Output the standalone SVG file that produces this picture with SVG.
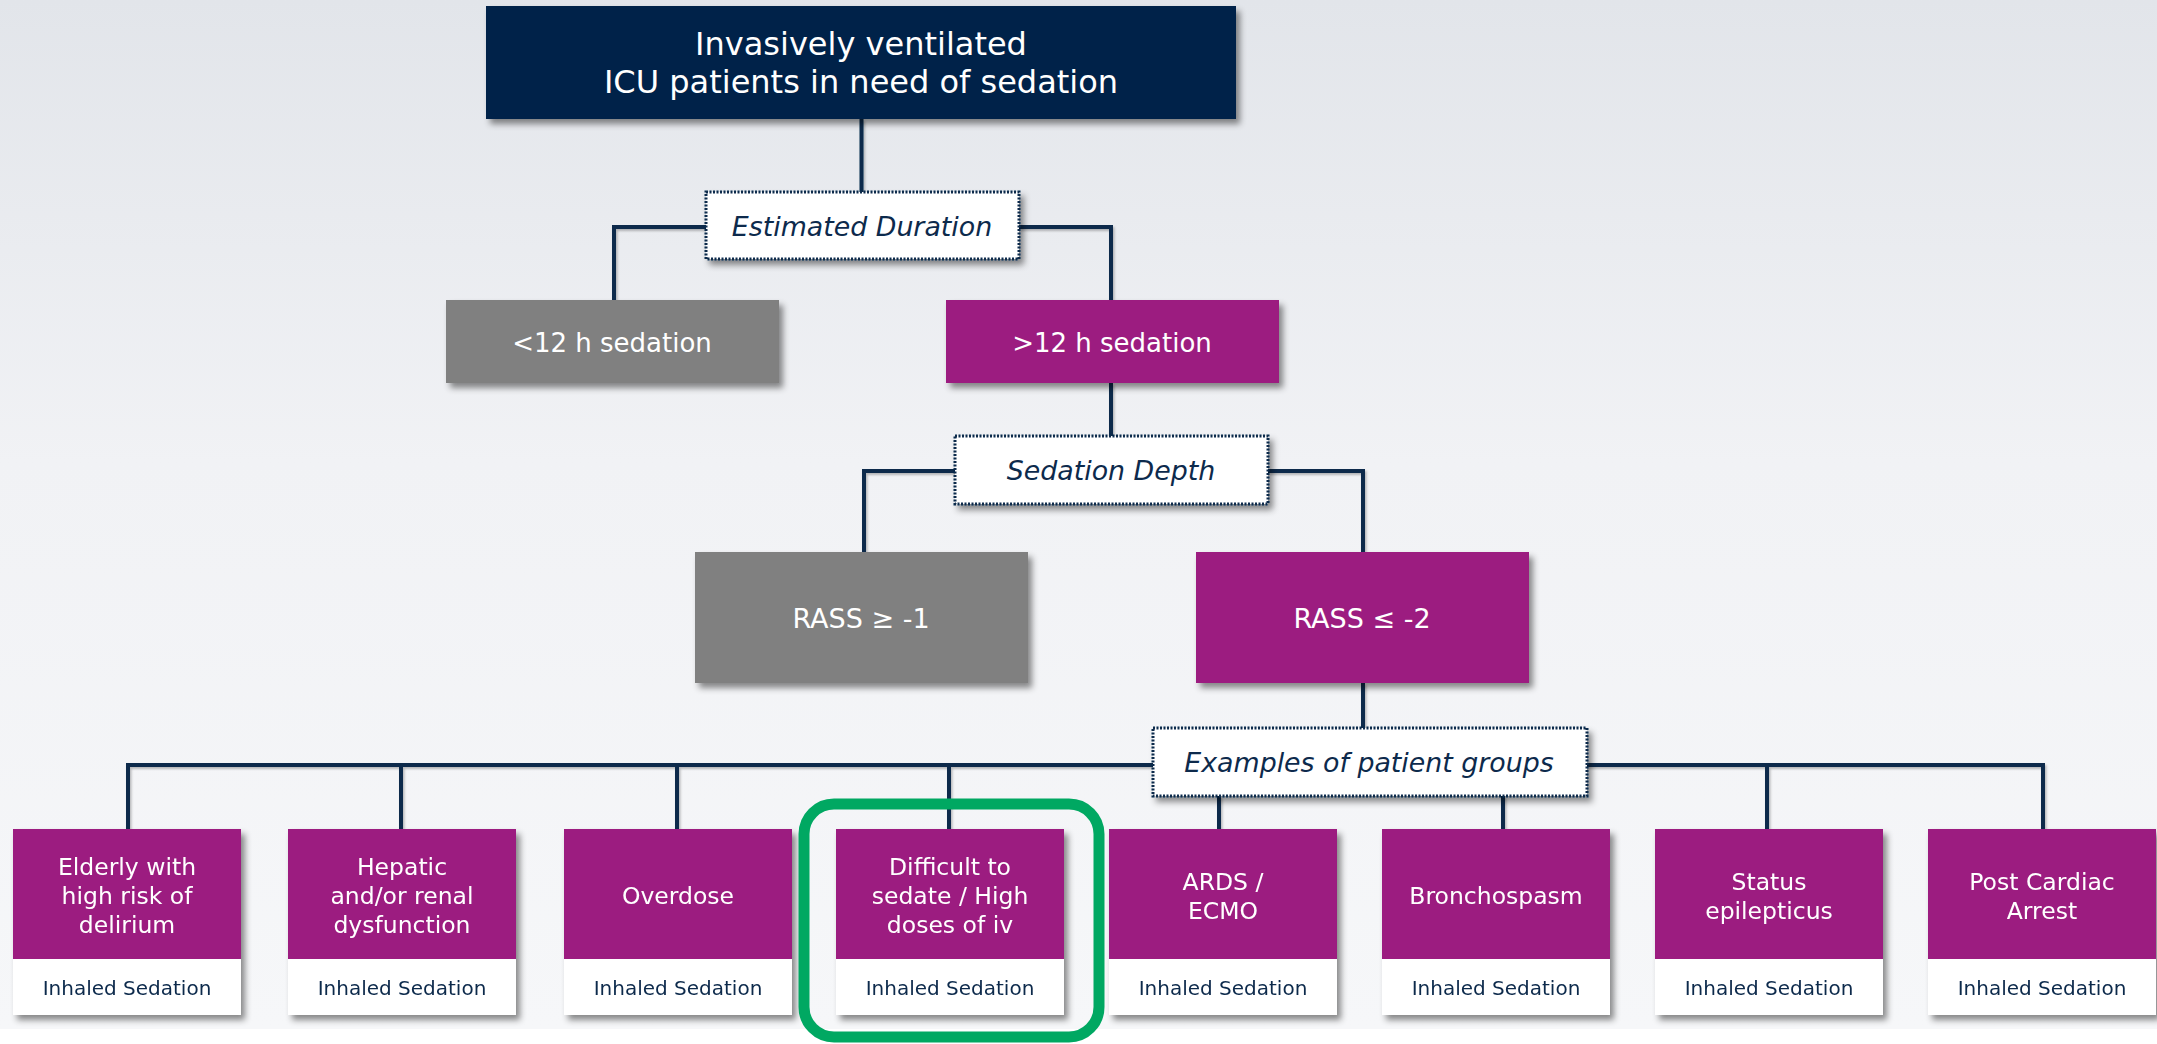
<svg xmlns="http://www.w3.org/2000/svg" width="2157" height="1044" viewBox="0 0 2157 1044">
  <defs>
    <linearGradient id="bg" x1="0" y1="0" x2="0" y2="1">
      <stop offset="0" stop-color="#e2e5ea"/>
      <stop offset="0.45" stop-color="#f1f2f5"/>
      <stop offset="1" stop-color="#f6f7f9"/>
    </linearGradient>
    <filter id="sh" x="-10%" y="-10%" width="125%" height="130%">
      <feDropShadow dx="4" dy="5" stdDeviation="3" flood-color="#000" flood-opacity="0.45"/>
    </filter>
    <filter id="lsh" x="-10%" y="-10%" width="125%" height="130%">
      <feDropShadow dx="1.5" dy="2" stdDeviation="1" flood-color="#000" flood-opacity="0.25"/>
    </filter>
  </defs>
  <style>
    text { font-family: "DejaVu Sans", Verdana, sans-serif; text-anchor: middle; }
    .w { fill: #ffffff; }
    .navy { fill: #03234a; }
    .purple { fill: #9c1f80; }
    .gray { fill: #808080; }
    .white { fill: #ffffff; }
    .dot { fill: #ffffff; stroke: #0d2a4c; stroke-width: 3; stroke-dasharray: 2 1.5; }
    .lbl { font-size: 26.8px; font-style: italic; fill: #0d2a4c; }
    .mid { font-size: 26px; fill: #ffffff; }
    .grp { font-size: 23.5px; fill: #ffffff; }
    .inh { font-size: 20px; fill: #0d2a4c; }
    .conn { fill: none; stroke: #0d2a4c; stroke-width: 4; }
  </style>

  <rect x="0" y="0" width="2157" height="1029" fill="url(#bg)"/>
  <rect x="0" y="1029" width="2157" height="15" fill="#ffffff"/>

  <g id="connectors" class="conn" filter="url(#lsh)">
    <path d="M861.5 119 V192"/>
    <path d="M706 227 H614 V300"/>
    <path d="M1019 227 H1111 V300"/>
    <path d="M1111 383 V436"/>
    <path d="M955 471 H864 V552"/>
    <path d="M1268 471 H1363 V552"/>
    <path d="M1363 683 V728"/>
    <path d="M128 829 V765 H2043 V829"/>
    <path d="M401 765 V829"/>
    <path d="M677 765 V829"/>
    <path d="M949 765 V829"/>
    <path d="M1767 765 V829"/>
    <path d="M1219 796 V829"/>
    <path d="M1503 796 V829"/>
  </g>

  <g id="root">
    <rect x="486" y="6" width="750" height="113" class="navy" filter="url(#sh)"/>
    <text x="861" y="55" style="font-size:32px" class="w">Invasively ventilated</text>
    <text x="861" y="93" style="font-size:32px" class="w">ICU patients in need of sedation</text>
  </g>

  <g id="estimated-duration">
    <rect x="706" y="192" width="313" height="67" class="dot" filter="url(#sh)"/>
    <text x="862" y="236" class="lbl">Estimated Duration</text>
  </g>

  <g id="lt12">
    <rect x="446" y="300" width="333" height="83" class="gray" filter="url(#sh)"/>
    <text x="612" y="352" class="mid">&lt;12 h sedation</text>
  </g>

  <g id="gt12">
    <rect x="946" y="300" width="333" height="83" class="purple" filter="url(#sh)"/>
    <text x="1112" y="352" class="mid">&gt;12 h sedation</text>
  </g>

  <g id="sedation-depth">
    <rect x="955" y="436" width="313" height="68" class="dot" filter="url(#sh)"/>
    <text x="1111" y="480" class="lbl">Sedation Depth</text>
  </g>

  <g id="rass-ge">
    <rect x="695" y="552" width="333" height="131" class="gray" filter="url(#sh)"/>
    <text x="861" y="628" class="mid" style="font-size:27px">RASS ≥ -1</text>
  </g>

  <g id="rass-le">
    <rect x="1196" y="552" width="333" height="131" class="purple" filter="url(#sh)"/>
    <text x="1362" y="628" class="mid" style="font-size:27px">RASS ≤ -2</text>
  </g>

  <g id="examples">
    <rect x="1153" y="728" width="434" height="68" class="dot" filter="url(#sh)"/>
    <text x="1369" y="772" class="lbl">Examples of patient groups</text>
  </g>

  <g id="elderly" filter="url(#sh)">
    <rect x="13" y="829" width="228" height="130" class="purple"/>
    <rect x="13" y="959" width="228" height="56" class="white"/>
    <text x="127" y="875" class="grp">Elderly with</text>
    <text x="127" y="904" class="grp">high risk of</text>
    <text x="127" y="933" class="grp">delirium</text>
    <text x="127" y="995" class="inh">Inhaled Sedation</text>
  </g>

  <g id="hepatic" filter="url(#sh)">
    <rect x="288" y="829" width="228" height="130" class="purple"/>
    <rect x="288" y="959" width="228" height="56" class="white"/>
    <text x="402" y="875" class="grp">Hepatic</text>
    <text x="402" y="904" class="grp">and/or renal</text>
    <text x="402" y="933" class="grp">dysfunction</text>
    <text x="402" y="995" class="inh">Inhaled Sedation</text>
  </g>

  <g id="overdose" filter="url(#sh)">
    <rect x="564" y="829" width="228" height="130" class="purple"/>
    <rect x="564" y="959" width="228" height="56" class="white"/>
    <text x="678" y="904" class="grp">Overdose</text>
    <text x="678" y="995" class="inh">Inhaled Sedation</text>
  </g>

  <g id="difficult" filter="url(#sh)">
    <rect x="836" y="829" width="228" height="130" class="purple"/>
    <rect x="836" y="959" width="228" height="56" class="white"/>
    <text x="950" y="875" class="grp">Difficult to</text>
    <text x="950" y="904" class="grp">sedate / High</text>
    <text x="950" y="933" class="grp">doses of iv</text>
    <text x="950" y="995" class="inh">Inhaled Sedation</text>
  </g>

  <g id="ards" filter="url(#sh)">
    <rect x="1109" y="829" width="228" height="130" class="purple"/>
    <rect x="1109" y="959" width="228" height="56" class="white"/>
    <text x="1223" y="890" class="grp">ARDS /</text>
    <text x="1223" y="919" class="grp">ECMO</text>
    <text x="1223" y="995" class="inh">Inhaled Sedation</text>
  </g>

  <g id="bronchospasm" filter="url(#sh)">
    <rect x="1382" y="829" width="228" height="130" class="purple"/>
    <rect x="1382" y="959" width="228" height="56" class="white"/>
    <text x="1496" y="904" class="grp">Bronchospasm</text>
    <text x="1496" y="995" class="inh">Inhaled Sedation</text>
  </g>

  <g id="status" filter="url(#sh)">
    <rect x="1655" y="829" width="228" height="130" class="purple"/>
    <rect x="1655" y="959" width="228" height="56" class="white"/>
    <text x="1769" y="890" class="grp">Status</text>
    <text x="1769" y="919" class="grp">epilepticus</text>
    <text x="1769" y="995" class="inh">Inhaled Sedation</text>
  </g>

  <g id="postcardiac" filter="url(#sh)">
    <rect x="1928" y="829" width="228" height="130" class="purple"/>
    <rect x="1928" y="959" width="228" height="56" class="white"/>
    <text x="2042" y="890" class="grp">Post Cardiac</text>
    <text x="2042" y="919" class="grp">Arrest</text>
    <text x="2042" y="995" class="inh">Inhaled Sedation</text>
  </g>

  <g id="highlight">
    <rect x="804" y="804" width="295" height="233" rx="30" ry="30" fill="none" stroke="#00a862" stroke-width="11"/>
  </g>
</svg>
